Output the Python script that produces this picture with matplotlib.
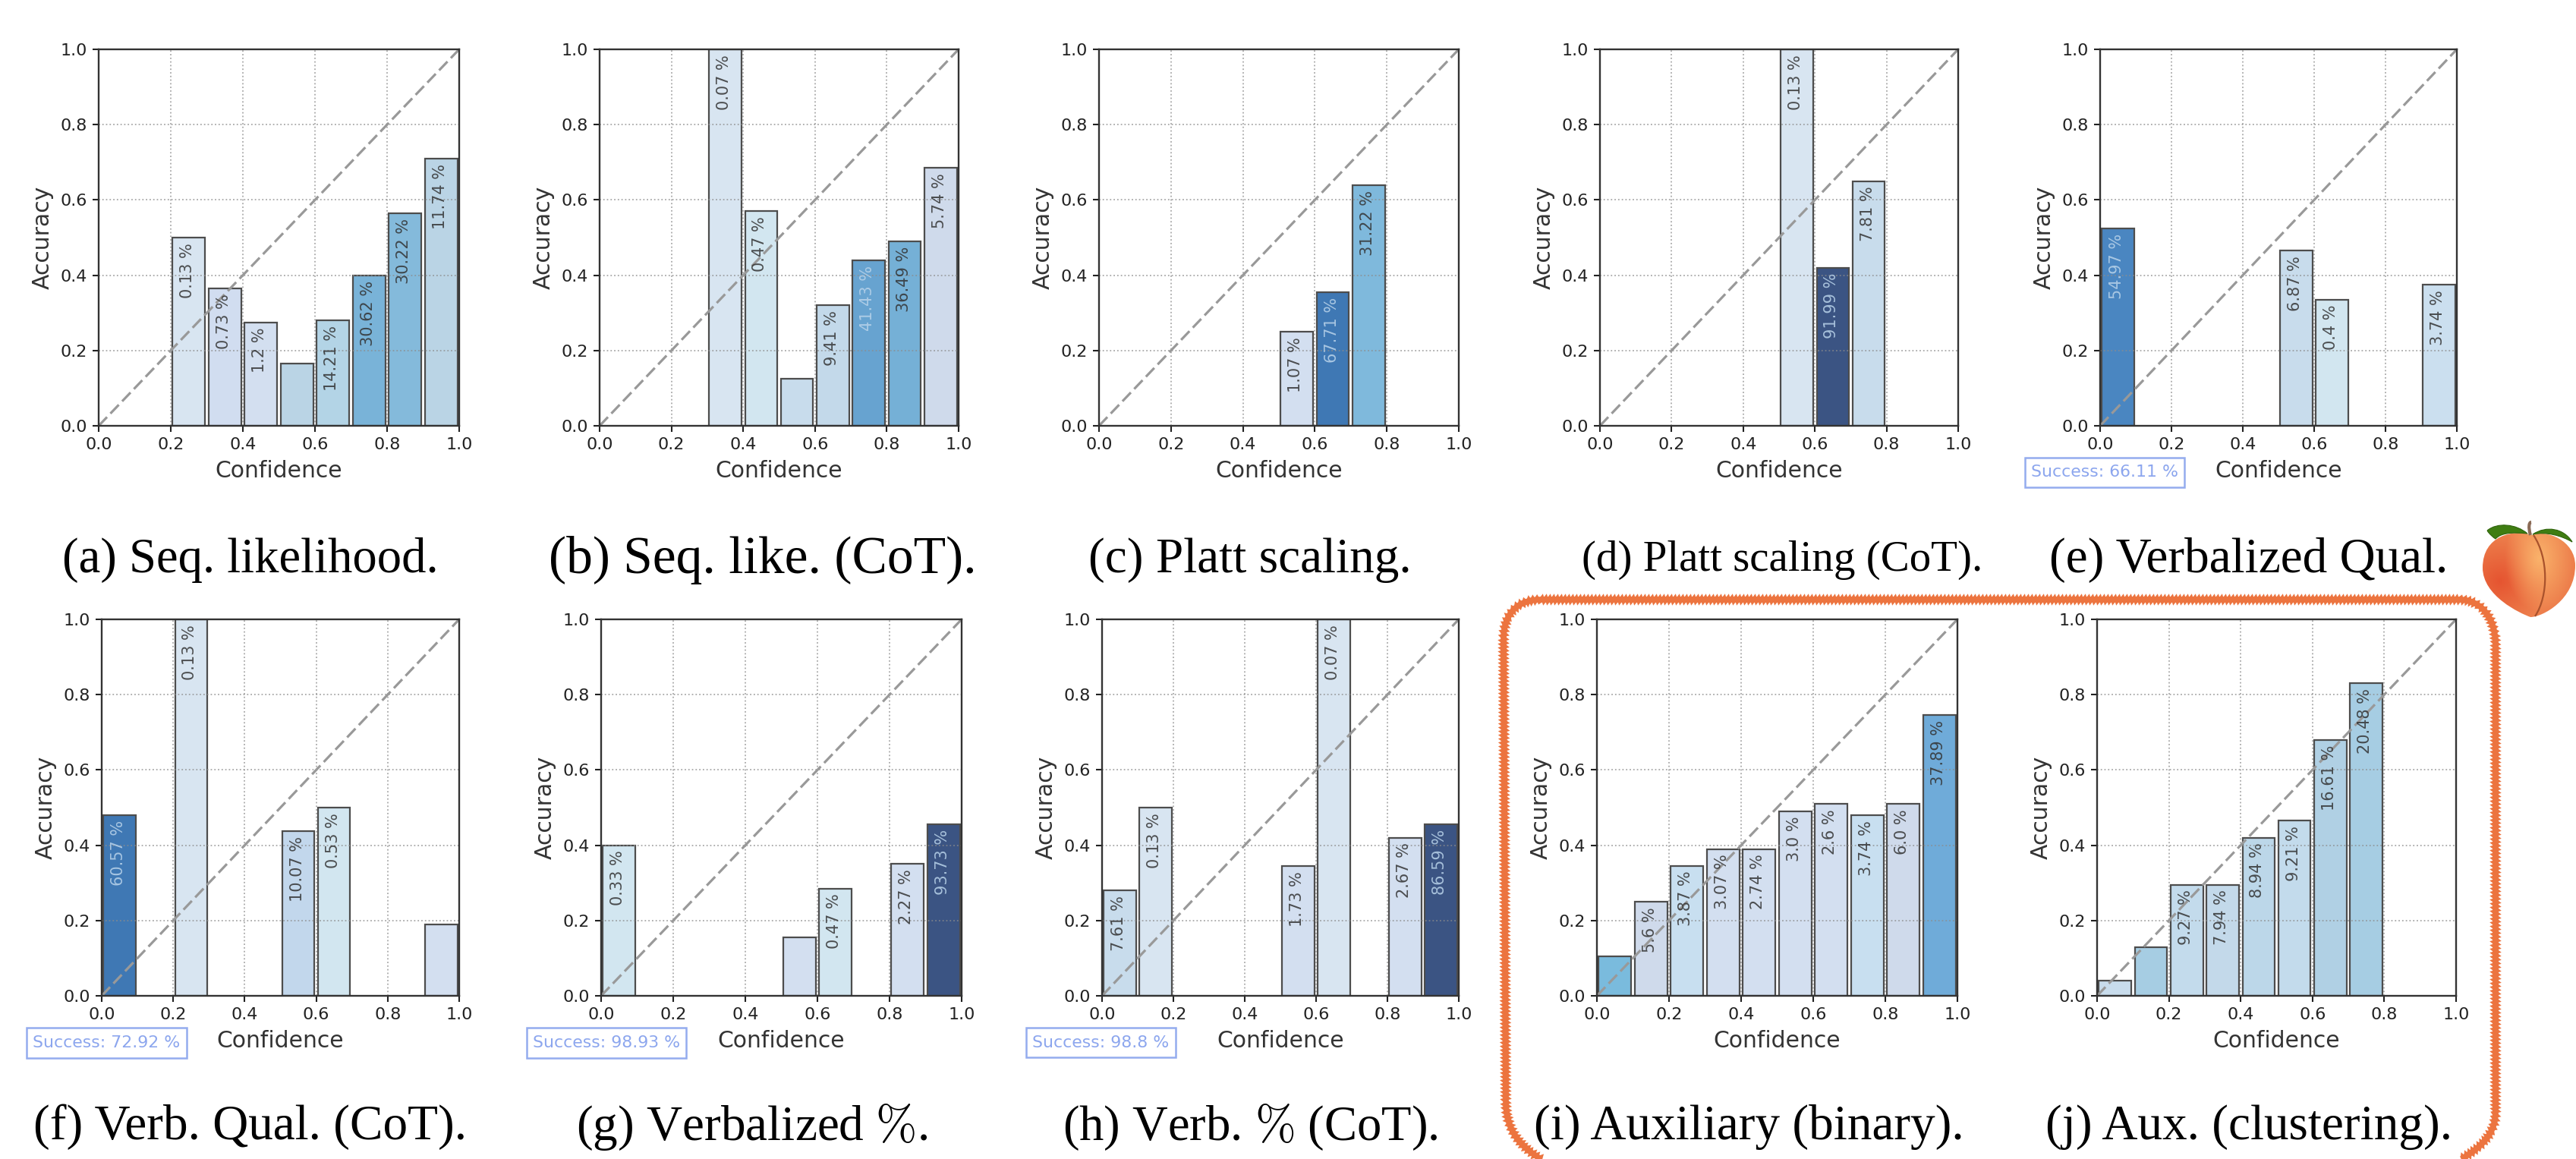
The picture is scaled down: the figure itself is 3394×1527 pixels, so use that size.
import numpy as np
import matplotlib
matplotlib.use("Agg")
import matplotlib.pyplot as plt
from matplotlib.patches import Rectangle, PathPatch
from matplotlib.path import Path

plt.rcParams["mathtext.fontset"] = "cm"

W, H = 3394, 1527

# ---- data: bin left edges, accuracy, share of samples (None = no label) ----
a_bins = [0.2, 0.3, 0.4, 0.5, 0.6, 0.7, 0.8, 0.9]
a_acc = [0.50, 0.365, 0.275, 0.165, 0.28, 0.40, 0.565, 0.71]
a_pct = ["0.13", "0.73", "1.2", None, "14.21", "30.62", "30.22", "11.74"]

b_bins = [0.3, 0.4, 0.5, 0.6, 0.7, 0.8, 0.9]
b_acc = [1.0, 0.57, 0.125, 0.32, 0.44, 0.49, 0.685]
b_pct = ["0.07", "0.47", None, "9.41", "41.43", "36.49", "5.74"]

c_bins = [0.5, 0.6, 0.7]
c_acc = [0.25, 0.355, 0.64]
c_pct = ["1.07", "67.71", "31.22"]

d_bins = [0.5, 0.6, 0.7]
d_acc = [1.0, 0.42, 0.65]
d_pct = ["0.13", "91.99", "7.81"]

e_bins = [0.0, 0.5, 0.6, 0.9]
e_acc = [0.525, 0.465, 0.335, 0.375]
e_pct = ["54.97", "6.87", "0.4", "3.74"]

f_bins = [0.0, 0.2, 0.5, 0.6, 0.9]
f_acc = [0.48, 1.0, 0.437, 0.50, 0.19]
f_pct = ["60.57", "0.13", "10.07", "0.53", None]

g_bins = [0.0, 0.5, 0.6, 0.8, 0.9]
g_acc = [0.40, 0.155, 0.285, 0.35, 0.455]
g_pct = ["0.33", None, "0.47", "2.27", "93.73"]

h_bins = [0.0, 0.1, 0.5, 0.6, 0.8, 0.9]
h_acc = [0.28, 0.50, 0.345, 1.0, 0.42, 0.455]
h_pct = ["7.61", "0.13", "1.73", "0.07", "2.67", "86.59"]

i_bins = [0.0, 0.1, 0.2, 0.3, 0.4, 0.5, 0.6, 0.7, 0.8, 0.9]
i_acc = [0.105, 0.25, 0.345, 0.39, 0.39, 0.49, 0.51, 0.48, 0.51, 0.745]
i_pct = [None, "5.6", "3.87", "3.07", "2.74", "3.0", "2.6", "3.74", "6.0", "37.89"]

j_bins = [0.0, 0.1, 0.2, 0.3, 0.4, 0.5, 0.6, 0.7]
j_acc = [0.04, 0.13, 0.295, 0.295, 0.42, 0.465, 0.68, 0.83]
j_pct = [None, None, "9.27", "7.94", "8.94", "9.21", "16.61", "20.48"]

captions = ["(a) Seq. likelihood.", "(b) Seq. like. (CoT).", "(c) Platt scaling.",
            "(d) Platt scaling (CoT).", "(e) Verbalized Qual.",
            "(f) Verb. Qual. (CoT).", r"(g) Verbalized $\%$.", r"(h) Verb. $\%$ (CoT).",
            "(i) Auxiliary (binary).", "(j) Aux. (clustering)."]
success = [None, None, None, None, "66.11", "72.92", "98.93", "98.8", None, None]

# ---- styles ----
a_col = ["#d8e5f1", "#d1ddf0", "#d3dff0", "#bad4e5", "#b3d4e6", "#79b3d8", "#84badb", "#bad4e5"]
b_col = ["#d8e5f1", "#d2e6f0", "#c8dcec", "#c3d9ea", "#67a3d0", "#75b0d6", "#cfdaeb"]
c_col = ["#d3dff0", "#3f78b4", "#7fb9dc"]
d_col = ["#d8e5f1", "#3b5483", "#c8dcec"]
e_col = ["#4a86c1", "#c8dcec", "#d2e6f0", "#cbdfef"]
f_col = ["#3f78b4", "#d8e5f1", "#c2d7ec", "#d2e6f0", "#d3dff0"]
g_col = ["#d2e6f0", "#d3dff0", "#d2e6f0", "#d3dff0", "#3b5483"]
h_col = ["#c8dcec", "#d8e5f1", "#d3dff0", "#d8e5f1", "#d3dff0", "#3b5483"]
i_col = ["#7abbdd", "#cfdaeb", "#c8dff0", "#d3dff0", "#d3dff0", "#d3dff0", "#d3dff0", "#c8dff0", "#cfdaeb", "#6fabd9"]
j_col = ["#c8dcec", "#a6cde3", "#c3dbec", "#c3d9ea", "#bcd7e9", "#c3dbec", "#b0d0e4", "#a6cde3"]

panels = [(a_bins, a_acc, a_pct, a_col), (b_bins, b_acc, b_pct, b_col),
          (c_bins, c_acc, c_pct, c_col), (d_bins, d_acc, d_pct, d_col),
          (e_bins, e_acc, e_pct, e_col), (f_bins, f_acc, f_pct, f_col),
          (g_bins, g_acc, g_pct, g_col), (h_bins, h_acc, h_pct, h_col),
          (i_bins, i_acc, i_pct, i_col), (j_bins, j_acc, j_pct, j_col)]

# axes boxes in pixels: left, right, top, bottom
boxes = [(130, 605, 65, 561), (790, 1263, 65, 561), (1448, 1922, 65, 561),
         (2108, 2580, 65, 561), (2767, 3237, 65, 561),
         (134, 605, 816, 1312), (792, 1267, 816, 1312), (1452, 1922, 816, 1312),
         (2104, 2579, 816, 1312), (2763, 3236, 816, 1312)]
cap_x = [330, 1005, 1647, 2348, 2963, 330, 991, 1647, 2304, 2963]
cap_y = [738, 738, 738, 738, 738, 1485, 1485, 1485, 1485, 1485]
cap_fs = [46.5, 50, 47, 41, 47, 47, 47, 46.5, 47, 47]
succ_box = [None, None, None, None, (2668, 2878, 603, 642), (35, 246, 1354, 1394),
            (694, 904, 1354, 1394), (1352, 1549, 1354, 1393), None, None]

DARK = "#333333"
fig = plt.figure(figsize=(W / 100, H / 100), dpi=100, facecolor="white")

for (bins, acc, pct, col), (l, r, t, b) in zip(panels, boxes):
    ax = fig.add_axes([l / W, 1 - b / H, (r - l) / W, (b - t) / H])
    ax.set_xlim(0, 1)
    ax.set_ylim(0, 1)
    ax.set_axisbelow(False)
    bars = ax.bar(bins, acc, width=0.09, align="edge", color=col, edgecolor="#4d4d4d",
                  linewidth=1.6, zorder=2)
    for rect, p, c in zip(bars, pct, col):
        rect.set_x(rect.get_x() + 0.005)
        if p is None:
            continue
        dark_bar = matplotlib.colors.to_rgb(c)[0] < 0.36
        mid_bar = c == "#67a3d0"
        ax.annotate(f"{p} %", (rect.get_x() + 0.042, rect.get_height()),
                    xytext=(0, -5), textcoords="offset points", rotation=90,
                    ha="center", va="top", fontsize=15, zorder=5,
                    color="#b9d3ea" if (dark_bar or mid_bar) else DARK, alpha=0.85)
    ax.grid(True, linestyle=":", color="#8c8c8c", linewidth=1.3, alpha=0.75, zorder=3)
    ax.plot([0, 1], [0, 1], linestyle="--", color="#999999", linewidth=2.3,
            dashes=(5, 2), zorder=4)
    ax.set_xticks(np.arange(0, 1.01, 0.2))
    ax.set_yticks(np.arange(0, 1.01, 0.2))
    ax.tick_params(labelsize=16, length=6, width=1.5, colors="#222222", pad=5)
    ax.set_xlabel("Confidence", fontsize=21.5, color="#333333", labelpad=7)
    ax.set_ylabel("Accuracy", fontsize=21.5, color="#333333", labelpad=6)
    for s in ax.spines.values():
        s.set_linewidth(1.7)
        s.set_color("#333333")
        s.set_zorder(6)

# ---- overlay in pixel coordinates ----
ov = fig.add_axes([0, 0, 1, 1], zorder=10)
ov.set_xlim(0, W)
ov.set_ylim(H, 0)
ov.axis("off")
ov.patch.set_alpha(0)

for cap, x, y, fs in zip(captions, cap_x, cap_y, cap_fs):
    ov.text(x, y, cap, ha="center", va="center", fontsize=fs,
            family="Liberation Serif", color="black")

for s, bx in zip(success, succ_box):
    if s is None:
        continue
    x0, x1, y0, y1 = bx
    ov.add_patch(Rectangle((x0, y0), x1 - x0, y1 - y0, fill=False, edgecolor="#94acee", linewidth=1.8))
    ov.text((x0 + x1) / 2, (y0 + y1) / 2, f"Success: {s} %", ha="center", va="center",
            fontsize=15.8, color="#8ca6ee")

# hand-drawn orange frame, open at the bottom where the picture cuts it
MOVE, LINE, CURVE, CLOSE = Path.MOVETO, Path.LINETO, Path.CURVE4, Path.CLOSEPOLY
frame_path = Path(
    [(2030, 1527), (2003, 1510), (1984, 1490), (1984, 1450), (1981, 842),
     (1981, 810), (1998, 790), (2030, 790), (3240, 790),
     (3270, 790), (3288, 815), (3288, 850), (3288, 1465),
     (3288, 1495), (3268, 1512), (3243, 1527)],
    [MOVE, CURVE, CURVE, CURVE, LINE, CURVE, CURVE, CURVE, LINE,
     CURVE, CURVE, CURVE, LINE, CURVE, CURVE, CURVE])
solid = PathPatch(frame_path, fill=False, edgecolor="#ec743f", linewidth=5.5)
ov.add_patch(solid)
rough = PathPatch(frame_path, fill=False, edgecolor="#ec743f", linewidth=3)
rough.set_sketch_params(scale=3.5, length=5, randomness=1)
ov.add_patch(rough)

# peach emoji, drawn
body_v = [(3336, 705), (3312, 697), (3271, 705), (3271, 748),
          (3271, 785), (3320, 808), (3334, 813),
          (3350, 813), (3393, 790), (3393, 745),
          (3393, 712), (3355, 697), (3336, 705), (3336, 705)]
body_c = [MOVE] + [CURVE] * 12 + [CLOSE]
body = Path(body_v, body_c)
yy, xx = np.mgrid[690:820, 3265:3394]
d1 = np.hypot((xx - 3293) / 62, (yy - 765) / 62)
d2 = np.hypot((xx - 3345) / 45, (yy - 735) / 70)
t1 = np.clip(1 - d1, 0, 1)[..., None]
t2 = np.clip(1 - d2, 0, 1)[..., None]
base = np.array([0.93, 0.50, 0.30])
red = np.array([0.90, 0.33, 0.19])
light = np.array([0.98, 0.70, 0.42])
img = base * (1 - t1) + red * t1
img = img * (1 - t2) + light * t2
im = ov.imshow(img, extent=(3265, 3394, 820, 690), zorder=5, aspect="auto", interpolation="bilinear")
im.set_clip_path(PathPatch(body, transform=ov.transData))
ov.set_xlim(0, W)
ov.set_ylim(H, 0)
ov.add_patch(PathPatch(Path([(3338, 705), (3358, 735), (3358, 785), (3340, 812)],
                            [MOVE, CURVE, CURVE, CURVE]), fill=False,
                       edgecolor="#a9522c", linewidth=1.6, zorder=6))
leaf1 = Path([(3277, 699), (3290, 688), (3315, 690), (3330, 703), (3310, 701), (3295, 702), (3288, 710), (3285, 708), (3280, 704), (3277, 699)],
             [MOVE] + [CURVE] * 9)
leaf2 = Path([(3337, 704), (3355, 692), (3378, 696), (3389, 714), (3375, 706), (3355, 700), (3337, 704)],
             [MOVE] + [CURVE] * 6)
for leaf in (leaf1, leaf2):
    ov.add_patch(PathPatch(leaf, facecolor="#3f7d12", edgecolor="#2f640c", linewidth=0.8, zorder=7))
ov.add_patch(PathPatch(Path([(3334, 705), (3331, 695), (3332, 688), (3335, 688)],
                            [MOVE, CURVE, CURVE, CURVE]), fill=False,
                       edgecolor="#8a6a55", linewidth=3, zorder=8))

fig.savefig("out.png", dpi=100, facecolor="white")
